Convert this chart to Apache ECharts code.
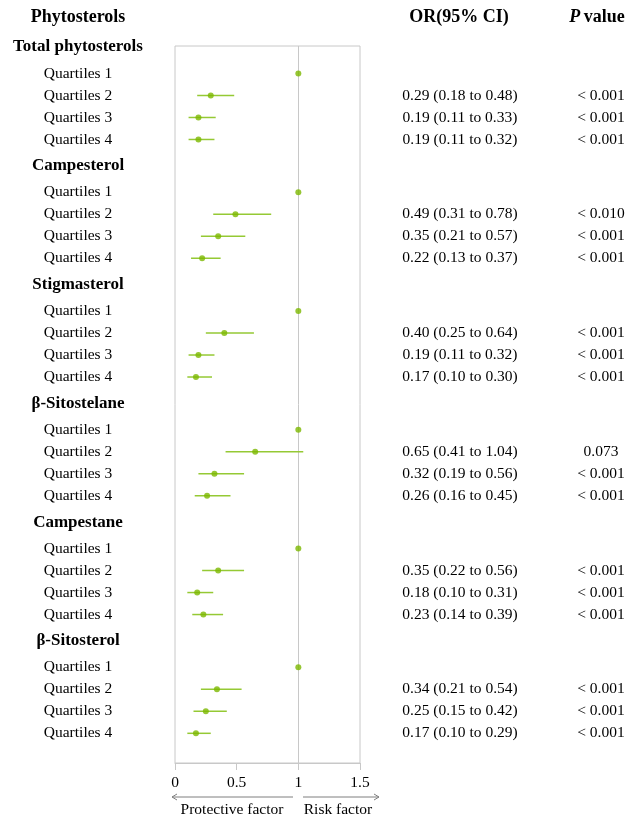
<!DOCTYPE html>
<html><head><meta charset="utf-8">
<script src="https://cdn.jsdelivr.net/npm/echarts@6/dist/echarts.min.js"></script>
<style>html,body{margin:0;padding:0;background:#fff}#c{width:637px;height:817px}</style>
</head><body><div id="c"></div>
<script>
const groups = ['Total phytosterols','Campesterol','Stigmasterol','β-Sitostelane','Campestane','β-Sitosterol'];
const quartiles = ['Quartiles 1','Quartiles 2','Quartiles 3','Quartiles 4'];
const orValues = [
  [1, 0.29, 0.19, 0.19],
  [1, 0.49, 0.35, 0.22],
  [1, 0.40, 0.19, 0.17],
  [1, 0.65, 0.32, 0.26],
  [1, 0.35, 0.18, 0.23],
  [1, 0.34, 0.25, 0.17]
];
const lowerCI = [
  [null, 0.18, 0.11, 0.11],
  [null, 0.31, 0.21, 0.13],
  [null, 0.25, 0.11, 0.10],
  [null, 0.41, 0.19, 0.16],
  [null, 0.22, 0.10, 0.14],
  [null, 0.21, 0.15, 0.10]
];
const upperCI = [
  [null, 0.48, 0.33, 0.32],
  [null, 0.78, 0.57, 0.37],
  [null, 0.64, 0.32, 0.30],
  [null, 1.04, 0.56, 0.45],
  [null, 0.56, 0.31, 0.39],
  [null, 0.54, 0.42, 0.29]
];
const pValues = [
  [null, '< 0.001', '< 0.001', '< 0.001'],
  [null, '< 0.010', '< 0.001', '< 0.001'],
  [null, '< 0.001', '< 0.001', '< 0.001'],
  [null, '0.073', '< 0.001', '< 0.001'],
  [null, '< 0.001', '< 0.001', '< 0.001'],
  [null, '< 0.001', '< 0.001', '< 0.001']
];
const xTicks = [0, 0.5, 1, 1.5];

// row layout (in row units)
const GROUP_STEP = 5.4, HEADER_GAP = 1.2;
function rowY(g, k) { return k < 0 ? g * GROUP_STEP : g * GROUP_STEP + HEADER_GAP + k; }

const FONT = '"Liberation Serif","Times New Roman",serif';
const GREEN = '#7cb800';
const LINEGREEN = '#95c934';

const pointData = [], barData = [], labelData = [], orText = [], pText = [];
groups.forEach((g, gi) => {
  labelData.push([rowY(gi, -1), g, 1]);
  quartiles.forEach((q, k) => {
    const y = rowY(gi, k);
    labelData.push([y, q, 0]);
    pointData.push([orValues[gi][k], y]);
    if (lowerCI[gi][k] != null) {
      barData.push([lowerCI[gi][k], upperCI[gi][k], y]);
      orText.push([y, orValues[gi][k].toFixed(2) + ' (' + lowerCI[gi][k].toFixed(2) + ' to ' + upperCI[gi][k].toFixed(2) + ')']);
      pText.push([y, pValues[gi][k]]);
    }
  });
});

function textSeries(data, xpx, kind) {
  return {
    type: 'custom', data: data, clip: false, silent: true,
    encode: { y: 0 },
    renderItem: function (params, api) {
      const y = api.coord([0, api.value(0)])[1];
      const item = data[params.dataIndex];
      const bold = kind === 'label' && item[2] === 1;
      return {
        type: 'text', x: xpx, y: y,
        style: {
          text: item[1], fill: '#000',
          font: (bold ? 'bold 17px ' : '15.5px ') + FONT,
          textAlign: 'center', textVerticalAlign: 'middle'
        }
      };
    }
  };
}

const chart = echarts.init(document.getElementById('c'), null, { renderer: 'canvas' });
chart.setOption({
  animation: false,
  backgroundColor: '#fff',
  grid: { left: 175, right: 277, top: 46, bottom: 54, show: true, borderColor: '#c8c8c8', borderWidth: 1 },
  xAxis: {
    type: 'value', min: xTicks[0], max: xTicks[xTicks.length - 1], interval: 0.5,
    axisLine: { show: true, onZero: false, lineStyle: { color: '#c8c8c8', width: 1 } },
    axisTick: { show: true, length: 7, lineStyle: { color: '#c8c8c8' } },
    splitLine: { show: false },
    axisLabel: { margin: 12, color: '#000', fontFamily: FONT, fontSize: 15.5, formatter: v => String(v) }
  },
  yAxis: {
    type: 'value', inverse: true, min: -0.05, max: 32.55,
    show: false, splitLine: { show: false }
  },
  series: [
    {
      type: 'scatter', name: 'ref', data: [], silent: true, z: 1,
      markLine: {
        silent: true, symbol: ['none', 'none'], label: { show: false }, z: 1,
        lineStyle: { color: '#c8c8c8', width: 1, type: 'solid' },
        data: [{ xAxis: 1 }]
      }
    },
    {
      type: 'custom', name: 'ci', data: barData, clip: false, silent: true,
      encode: { x: [0, 1], y: 2 },
      renderItem: function (params, api) {
        const a = api.coord([api.value(0), api.value(2)]);
        const b = api.coord([api.value(1), api.value(2)]);
        return { type: 'line', shape: { x1: a[0], y1: a[1], x2: b[0], y2: b[1] }, style: { stroke: LINEGREEN, lineWidth: 1.5 } };
      },
      z: 2
    },
    {
      type: 'scatter', name: 'OR', data: pointData, symbol: 'circle', symbolSize: 6,
      itemStyle: { color: GREEN }, silent: true, z: 5
    },
    textSeries(labelData, 78, 'label'),
    textSeries(orText, 460, 'or'),
    textSeries(pText, 601, 'p')
  ],
  graphic: [
    { type: 'text', x: 78, y: 17, style: { text: 'Phytosterols', font: 'bold 18px ' + FONT, fill: '#000', textAlign: 'center', textVerticalAlign: 'middle' } },
    { type: 'text', x: 459, y: 17, style: { text: 'OR(95% CI)', font: 'bold 18px ' + FONT, fill: '#000', textAlign: 'center', textVerticalAlign: 'middle' } },
    { type: 'text', x: 597, y: 17, style: {
        text: '{i|P} {b|value}', textAlign: 'center', textVerticalAlign: 'middle',
        rich: { i: { font: 'italic bold 18px ' + FONT, fill: '#000' }, b: { font: 'bold 18px ' + FONT, fill: '#000' } }
      } },
    // arrows
    { type: 'line', shape: { x1: 172, y1: 797, x2: 293, y2: 797 }, style: { stroke: '#7f7f7f', lineWidth: 1 } },
    { type: 'polyline', shape: { points: [[177, 794], [172, 797], [177, 800]] }, style: { stroke: '#7f7f7f', lineWidth: 1, fill: null } },
    { type: 'line', shape: { x1: 303, y1: 797, x2: 379, y2: 797 }, style: { stroke: '#7f7f7f', lineWidth: 1 } },
    { type: 'polyline', shape: { points: [[374, 794], [379, 797], [374, 800]] }, style: { stroke: '#7f7f7f', lineWidth: 1, fill: null } },
    { type: 'text', x: 232, y: 810, style: { text: 'Protective factor', font: '15.5px ' + FONT, fill: '#000', textAlign: 'center', textVerticalAlign: 'middle' } },
    { type: 'text', x: 338, y: 810, style: { text: 'Risk factor', font: '15.5px ' + FONT, fill: '#000', textAlign: 'center', textVerticalAlign: 'middle' } }
  ]
});
</script>
</body></html>
